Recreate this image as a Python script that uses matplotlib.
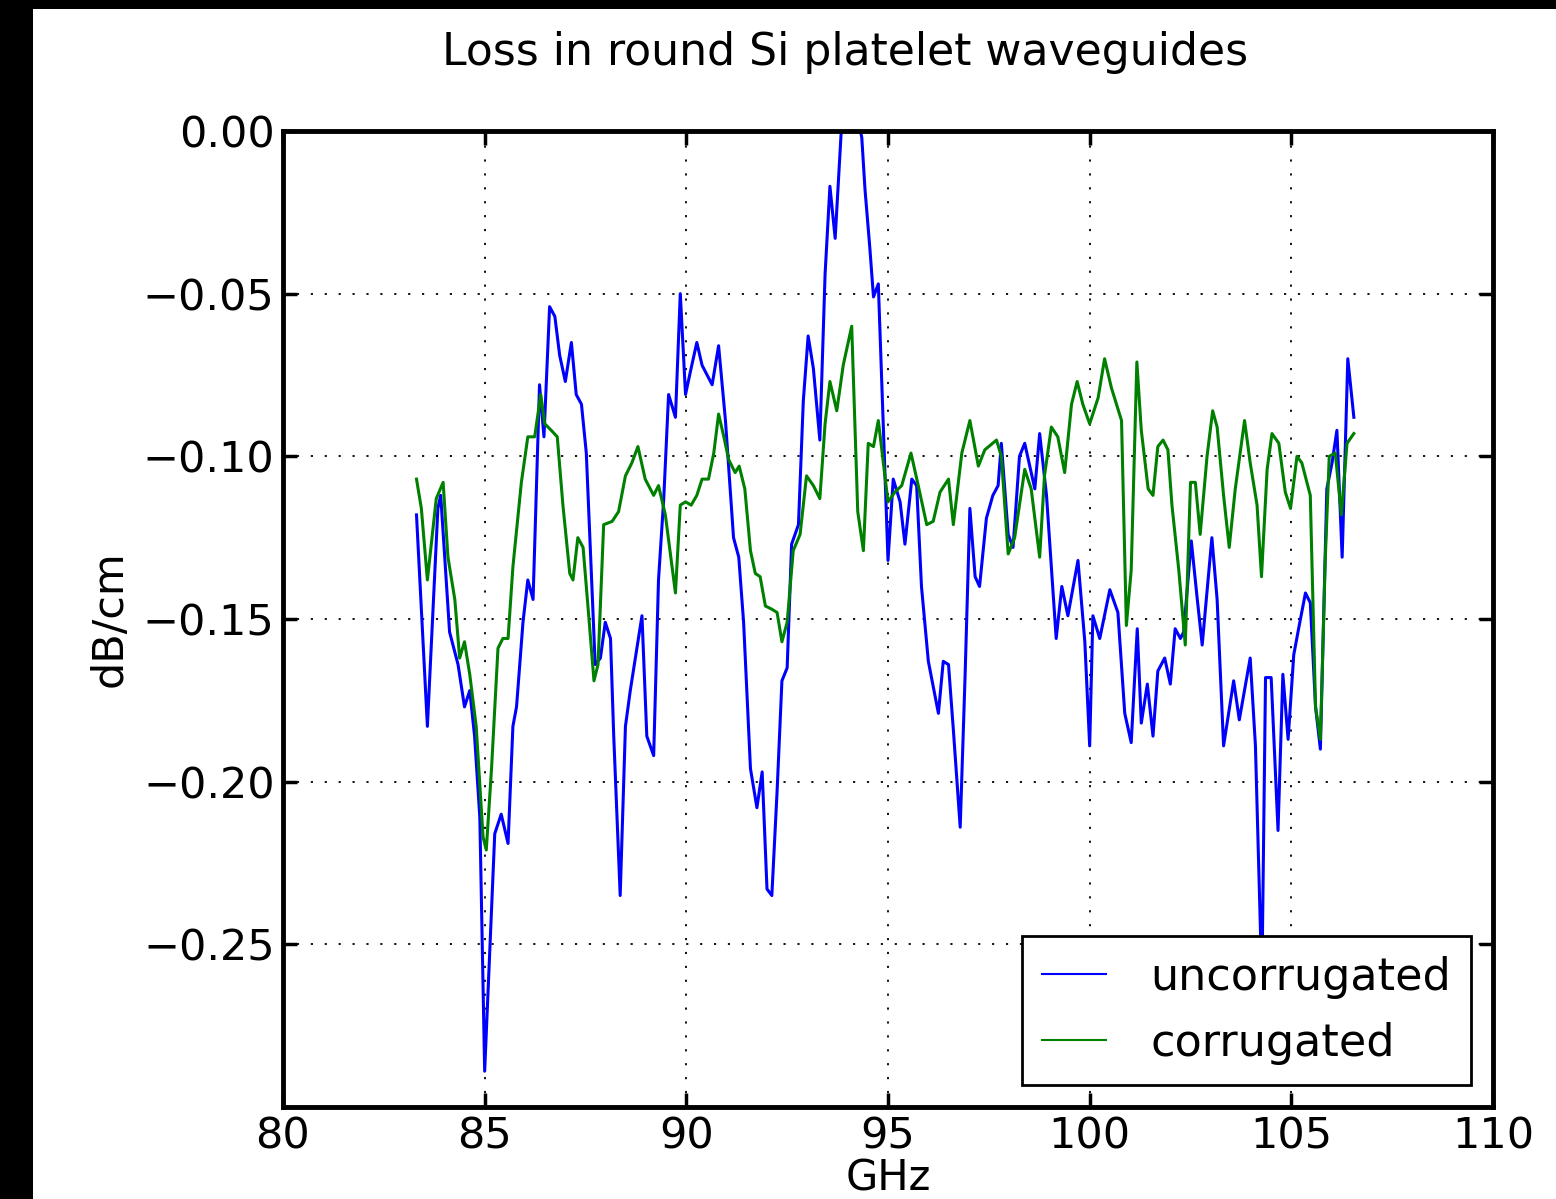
import matplotlib
matplotlib.use("Agg")
import matplotlib.pyplot as plt
from matplotlib.patches import Rectangle

# ---- data (GHz, dB/cm) ----
unc_x = [83.31, 83.58, 83.84, 83.91, 84.13, 84.34, 84.50, 84.63, 84.75, 84.88,
         85.00, 85.25, 85.41, 85.58, 85.70, 85.79, 85.95, 86.07, 86.20, 86.36,
         86.47, 86.61, 86.74, 86.86, 87.00, 87.15, 87.27, 87.40, 87.52, 87.74,
         87.87, 87.99, 88.12, 88.20, 88.36, 88.49, 88.61, 88.90, 89.02, 89.19,
         89.31, 89.44, 89.56, 89.73, 89.85, 89.98, 90.10, 90.26, 90.39, 90.64,
         90.80, 90.97, 91.17, 91.30, 91.42, 91.59, 91.75, 91.88, 92.00, 92.12,
         92.25, 92.37, 92.50, 92.61, 92.78, 92.90, 93.02, 93.15, 93.31, 93.44,
         93.56, 93.69, 93.85, 94.00, 94.15, 94.35, 94.43, 94.55, 94.64, 94.76,
         95.00, 95.13, 95.30, 95.42, 95.59, 95.71, 95.83, 96.00, 96.25, 96.37,
         96.50, 96.62, 96.79, 96.91, 97.03, 97.16, 97.27, 97.44, 97.60, 97.73,
         97.81, 97.98, 98.10, 98.26, 98.39, 98.64, 98.76, 98.93, 99.17, 99.31,
         99.46, 99.71, 99.88, 100.00, 100.08, 100.25, 100.50, 100.70, 100.87, 101.03,
         101.18, 101.28, 101.43, 101.57, 101.69, 101.86, 102.00, 102.12, 102.25, 102.33,
         102.52, 102.66, 102.79, 103.03, 103.16, 103.32, 103.57, 103.71, 103.98, 104.11,
         104.27, 104.36, 104.50, 104.67, 104.79, 104.92, 105.06, 105.18, 105.35, 105.47,
         105.60, 105.72, 105.88, 106.01, 106.13, 106.26, 106.40, 106.55]
unc_y = [-0.118, -0.183, -0.116, -0.112, -0.154, -0.164, -0.177, -0.172, -0.186, -0.211,
         -0.289, -0.216, -0.210, -0.219, -0.183, -0.177, -0.151, -0.138, -0.144, -0.078,
         -0.094, -0.054, -0.057, -0.069, -0.077, -0.065, -0.081, -0.084, -0.099, -0.164,
         -0.162, -0.151, -0.156, -0.186, -0.235, -0.183, -0.172, -0.149, -0.186, -0.192,
         -0.138, -0.113, -0.081, -0.088, -0.050, -0.081, -0.074, -0.065, -0.072, -0.078,
         -0.066, -0.089, -0.125, -0.131, -0.151, -0.196, -0.208, -0.197, -0.233, -0.235,
         -0.203, -0.169, -0.165, -0.127, -0.121, -0.083, -0.063, -0.073, -0.095, -0.044,
         -0.017, -0.033, 0.002, 0.012, 0.010, -0.002, -0.018, -0.036, -0.051, -0.047,
         -0.132, -0.107, -0.114, -0.127, -0.107, -0.109, -0.140, -0.163, -0.179, -0.163,
         -0.164, -0.184, -0.214, -0.168, -0.116, -0.137, -0.140, -0.119, -0.112, -0.109,
         -0.096, -0.124, -0.128, -0.100, -0.096, -0.110, -0.093, -0.112, -0.156, -0.140,
         -0.149, -0.132, -0.157, -0.189, -0.149, -0.156, -0.141, -0.148, -0.179, -0.188,
         -0.153, -0.182, -0.170, -0.186, -0.166, -0.162, -0.170, -0.153, -0.156, -0.154,
         -0.126, -0.143, -0.158, -0.125, -0.144, -0.189, -0.169, -0.181, -0.162, -0.189,
         -0.262, -0.168, -0.168, -0.215, -0.167, -0.187, -0.161, -0.153, -0.142, -0.145,
         -0.177, -0.190, -0.110, -0.102, -0.092, -0.131, -0.070, -0.088]

cor_x = [83.31, 83.43, 83.58, 83.80, 83.97, 84.09, 84.26, 84.38, 84.50, 84.63,
         84.79, 84.96, 85.04, 85.17, 85.33, 85.45, 85.58, 85.70, 85.91, 86.07,
         86.24, 86.39, 86.49, 86.65, 86.80, 86.94, 87.11, 87.19, 87.31, 87.44,
         87.56, 87.71, 87.81, 87.95, 88.16, 88.32, 88.49, 88.65, 88.80, 88.98,
         89.19, 89.31, 89.48, 89.73, 89.85, 89.98, 90.12, 90.26, 90.39, 90.55,
         90.68, 90.80, 90.93, 91.05, 91.21, 91.31, 91.45, 91.59, 91.71, 91.83,
         91.96, 92.12, 92.25, 92.37, 92.50, 92.65, 92.82, 92.98, 93.15, 93.31,
         93.44, 93.56, 93.73, 93.89, 94.10, 94.25, 94.39, 94.51, 94.64, 94.76,
         95.00, 95.17, 95.34, 95.57, 95.75, 95.96, 96.12, 96.29, 96.50, 96.62,
         96.83, 97.03, 97.24, 97.40, 97.69, 97.81, 97.98, 98.14, 98.39, 98.55,
         98.76, 98.88, 99.05, 99.21, 99.38, 99.55, 99.69, 99.83, 100.00, 100.21,
         100.37, 100.54, 100.79, 100.91, 101.03, 101.17, 101.28, 101.45, 101.57, 101.69,
         101.82, 101.94, 102.04, 102.21, 102.37, 102.50, 102.62, 102.74, 102.91, 103.05,
         103.16, 103.32, 103.46, 103.61, 103.84, 103.98, 104.15, 104.26, 104.40, 104.52,
         104.69, 104.85, 104.98, 105.14, 105.26, 105.47, 105.60, 105.72, 105.84, 105.94,
         106.09, 106.24, 106.38, 106.55]
cor_y = [-0.107, -0.116, -0.138, -0.113, -0.108, -0.131, -0.144, -0.162, -0.157, -0.167,
         -0.183, -0.217, -0.221, -0.196, -0.159, -0.156, -0.156, -0.134, -0.108, -0.094,
         -0.094, -0.081, -0.090, -0.092, -0.094, -0.115, -0.136, -0.138, -0.125, -0.128,
         -0.146, -0.169, -0.164, -0.121, -0.120, -0.117, -0.106, -0.102, -0.097, -0.107,
         -0.112, -0.109, -0.118, -0.142, -0.115, -0.114, -0.115, -0.112, -0.107, -0.107,
         -0.099, -0.087, -0.094, -0.101, -0.105, -0.103, -0.110, -0.129, -0.136, -0.137,
         -0.146, -0.147, -0.148, -0.157, -0.151, -0.129, -0.124, -0.106, -0.109, -0.113,
         -0.090, -0.077, -0.086, -0.072, -0.060, -0.117, -0.129, -0.096, -0.097, -0.089,
         -0.114, -0.111, -0.109, -0.099, -0.109, -0.121, -0.120, -0.111, -0.107, -0.121,
         -0.099, -0.089, -0.103, -0.098, -0.095, -0.100, -0.130, -0.125, -0.104, -0.110,
         -0.131, -0.106, -0.091, -0.094, -0.105, -0.084, -0.077, -0.084, -0.090, -0.082,
         -0.070, -0.079, -0.089, -0.152, -0.135, -0.071, -0.092, -0.110, -0.112, -0.097,
         -0.095, -0.098, -0.115, -0.135, -0.158, -0.108, -0.108, -0.124, -0.100, -0.086,
         -0.091, -0.112, -0.128, -0.110, -0.089, -0.102, -0.115, -0.137, -0.104, -0.093,
         -0.096, -0.111, -0.116, -0.100, -0.102, -0.112, -0.177, -0.187, -0.132, -0.100,
         -0.099, -0.118, -0.096, -0.093]

labels = ["uncorrugated", "corrugated"]
x_ticks = [80, 85, 90, 95, 100, 105, 110]
y_ticks = [0.00, -0.05, -0.10, -0.15, -0.20, -0.25]
y_tick_labels = ["0.00", "\u22120.05", "\u22120.10", "\u22120.15", "\u22120.20", "\u22120.25"]

W, H = 1556, 1199
fig = plt.figure(figsize=(W / 100, H / 100), dpi=100, facecolor="white")
# black frame on the left and top edges of the picture
fig.patches.append(Rectangle((0, 0), 33 / W, 1, transform=fig.transFigure,
                             facecolor="black", edgecolor="none", zorder=-5))
fig.patches.append(Rectangle((0, 1 - 9 / H), 1, 9 / H, transform=fig.transFigure,
                             facecolor="black", edgecolor="none", zorder=-5))

ax = fig.add_axes([283 / W, 1 - 1107 / H, (1493 - 283) / W, (1107 - 131) / H])
ax.plot(unc_x, unc_y, color="#0000ff", lw=2.2, label=labels[0])
ax.plot(cor_x, cor_y, color="#008000", lw=2.2, label=labels[1])

ax.set_xlim(80, 110)
ax.set_ylim(-0.30, 0.0)
ax.set_xticks(x_ticks)
ax.set_yticks(y_ticks)
ax.set_yticklabels(y_tick_labels)
fs = 31
ax.tick_params(direction="in", top=True, right=True, length=10, width=2.5,
               labelsize=fs, pad=6)
for s in ax.spines.values():
    s.set_linewidth(3.5)
ax.grid(True, color="black", linestyle=(0, (1.2, 6.5)), linewidth=1.3)

ax.set_xlabel("GHz", fontsize=30)
ax.xaxis.set_label_coords(0.5, -0.052)
ax.set_ylabel("dB/cm", fontsize=fs)
ax.yaxis.set_label_coords(-0.126, 0.5)

fig.text(845 / W, 1 - 52 / H, "Loss in round Si platelet waveguides", fontsize=31.8,
         ha="center", va="center")

leg = ax.legend(loc="lower right", fontsize=32, handlelength=1.42, handletextpad=1.0,
                labelspacing=0.52, borderaxespad=0.5, borderpad=0.45,
                fancybox=False, framealpha=1, edgecolor="black")
leg.get_frame().set_linewidth(2)
for l in leg.get_lines():
    l.set_linewidth(1.5)

fig.savefig("out.png", dpi=100, facecolor=fig.get_facecolor())
